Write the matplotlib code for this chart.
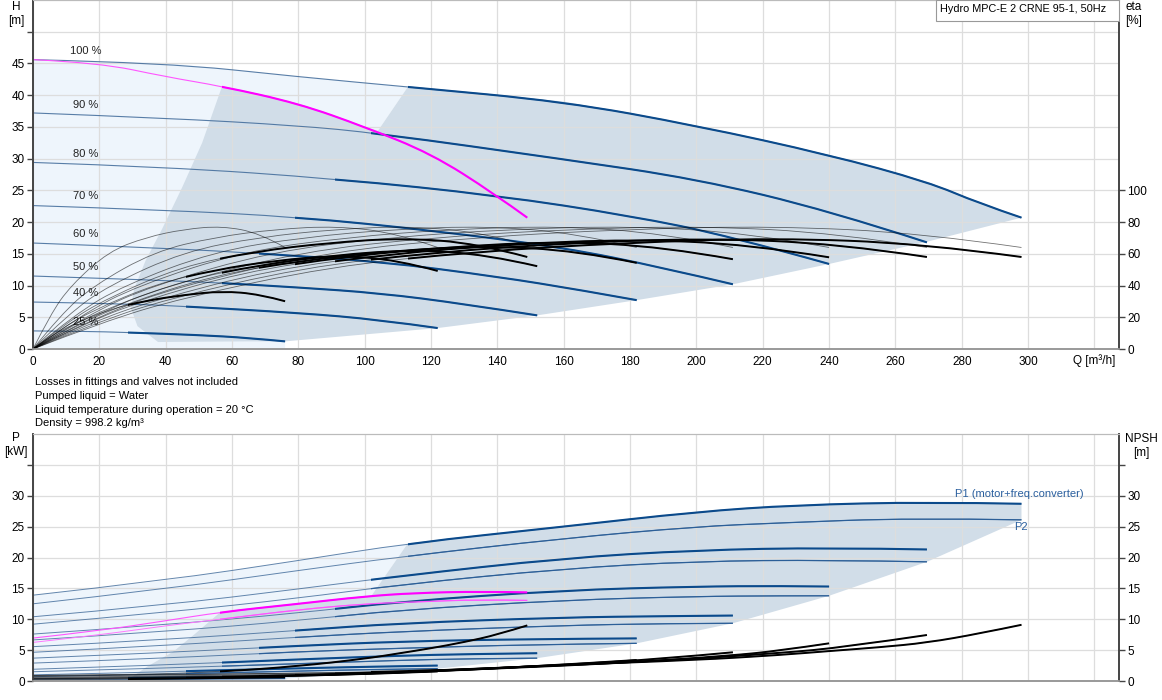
import matplotlib
matplotlib.use("Agg")
import matplotlib.pyplot as plt
from matplotlib.patches import Polygon, Rectangle, PathPatch
from matplotlib.path import Path

plt.rcParams["font.family"] = ["Liberation Sans", "DejaVu Sans"]

# ---------------- QH curves, 2 pumps, one per speed ----------------
speed_labels = ["100 %", "90 %", "80 %", "70 %", "60 %", "50 %", "40 %", "25 %"]
speed_label_h = [46.9, 38.5, 30.8, 24.1, 18.1, 12.9, 8.8, 4.25]
q_start = [113, 102, 91, 79, 68, 57, 46, 28.7]   # start of thick (operating) part

q_h100 = [0, 40, 80, 113, 160, 200, 240, 270, 285, 298]
h_100 = [45.6, 45.1, 42.9, 41.3, 39.0, 35.2, 30.6, 26.3, 23.0, 20.7]
q_h90 = [0, 40, 80, 104, 160, 200, 240, 269.5]
h_90 = [37.2, 36.4, 35.2, 34.0, 29.9, 26.8, 21.8, 16.8]
q_h80 = [0, 40, 92, 140, 180, 210, 240]
h_80 = [29.4, 28.7, 26.8, 24.2, 21.0, 17.8, 13.4]
q_h70 = [0, 40, 80, 120, 160, 190, 211]
h_70 = [22.6, 21.9, 20.8, 18.7, 16.0, 12.8, 10.2]
q_h60 = [0, 40, 70, 104.6, 140, 165, 182]
h_60 = [16.7, 15.9, 15.0, 13.8, 11.4, 9.3, 7.7]
q_h50 = [0, 40, 57, 80, 104.6, 130, 152]
h_50 = [11.5, 10.8, 10.4, 9.7, 8.8, 7.1, 5.3]
q_h40 = [0, 30, 46, 80, 104.6, 122]
h_40 = [7.4, 7.1, 6.7, 5.7, 4.6, 3.3]
q_h25 = [0, 15, 28.7, 50, 65, 76]
h_25 = [2.85, 2.8, 2.6, 2.2, 1.75, 1.2]

# one pump, 100 % (magenta)
q_h1p = [0, 20, 40, 57, 80, 100, 120, 139, 149]
h_1p = [45.6, 45.1, 42.9, 41.4, 38.7, 35.0, 30.8, 24.5, 20.7]

# ---------------- efficiency curves ----------------
q_e25 = [0, 5.3, 11.4, 22.8, 34.2, 45.6, 57, 68.4, 76]
q_e40 = [0, 8.5, 18.3, 36.6, 54.9, 73.2, 91.5, 109.8, 122]
q_e50 = [0, 10.6, 22.8, 45.6, 68.4, 91.2, 114, 136.8, 152]
q_e60 = [0, 12.7, 27.3, 54.6, 81.9, 109.2, 136.5, 163.8, 182]
q_e70 = [0, 14.8, 31.7, 63.3, 95, 126.6, 158.3, 189.9, 211]
q_e80 = [0, 16.8, 36, 72, 108, 144, 180, 216, 240]
q_e90 = [0, 18.9, 40.4, 80.9, 121.3, 161.7, 202.1, 242.6, 269.5]
q_e100 = [0, 20.9, 44.7, 89.4, 134.1, 178.8, 223.5, 268.2, 298]
q_e1p = [0, 10.4, 22.4, 44.7, 67.1, 89.4, 111.8, 134.1, 149]

eta_hyd = [0, 22, 40, 61.5, 70.5, 75.5, 77.5, 73, 64]   # thin curves

eta_100 = [0, 17, 32, 52, 61.5, 67, 70, 66.5, 58]
eta_90 = [0, 16.5, 31.5, 51.2, 61, 66.8, 69.8, 66.5, 58]
eta_80 = [0, 16, 30.5, 50, 60, 66, 69.2, 66, 57.8]
eta_70 = [0, 15.2, 29.5, 48.5, 58.5, 64.5, 67.8, 64.5, 56.6]
eta_60 = [0, 14.5, 28, 46.5, 56, 62, 65, 62, 54.3]
eta_50 = [0, 13.5, 26.1, 43.2, 53, 59.2, 62.6, 59.6, 52.2]
eta_40 = [0, 12.7, 24.6, 40.7, 49.9, 55.8, 59, 56.2, 49.2]
eta_25 = [0, 7.8, 15, 24.9, 30.5, 34.1, 36.5, 34.5, 30.1]
eta_1p = [0, 17, 32, 52, 61.5, 67, 70, 66.5, 58]

# ---------------- power curves ----------------
q_p100 = [0, 40, 80, 113, 160, 200, 230, 270, 298]
p1_100 = [13.9, 16.3, 19.5, 22.3, 25.0, 27.4, 28.5, 29.0, 28.7]
q_p2_100 = [0, 40, 80, 110.6, 160, 200, 225, 265, 298]
p2_100 = [12.5, 14.9, 17.9, 20.1, 23.1, 25.0, 25.6, 26.4, 26.1]
q_p90 = [0, 40, 80, 110.6, 160, 200, 240, 269.5]
p1_90 = [10.4, 12.3, 14.9, 17.0, 19.9, 21.2, 21.6, 21.3]
p2_90 = [9.2, 11.1, 13.4, 15.6, 18.2, 19.4, 19.6, 19.3]
q_p80 = [0, 40, 80, 110.6, 160, 200, 225, 240]
p1_80 = [7.6, 9.1, 11.0, 12.85, 14.7, 15.3, 15.4, 15.3]
p2_80 = [6.65, 8.0, 9.8, 11.5, 13.1, 13.7, 13.8, 13.8]
q_p70 = [0, 40, 80, 110.6, 160, 190, 211]
p1_70 = [5.56, 6.7, 8.2, 9.35, 10.3, 10.5, 10.6]
p2_70 = [4.65, 5.75, 7.1, 8.0, 9.0, 9.3, 9.35]
q_p60 = [0, 40, 80, 110.6, 150, 182]
p1_60 = [3.7, 4.6, 5.7, 6.4, 6.8, 6.9]
p2_60 = [2.9, 3.7, 4.75, 5.3, 5.9, 6.1]
q_p50 = [0, 40, 80, 110.6, 130, 152]
p1_50 = [1.9, 2.6, 3.5, 4.1, 4.35, 4.5]
p2_50 = [1.5, 2.1, 2.8, 3.35, 3.6, 3.7]
q_p40 = [0, 30, 46, 80, 100, 122]
p1_40 = [1.0, 1.35, 1.6, 2.05, 2.3, 2.5]
p2_40 = [0.7, 1.0, 1.2, 1.6, 1.85, 2.0]
q_p25 = [0, 28.7, 50, 76]
p1_25 = [0.35, 0.5, 0.6, 0.7]
p2_25 = [0.15, 0.25, 0.35, 0.4]
q_p1p = [0, 20, 40, 56.5, 80, 100, 115, 135, 149]
p1_1p = [6.95, 8.15, 9.75, 11.15, 12.5, 13.7, 14.25, 14.5, 14.35]
p2_1p = [6.25, 7.45, 8.95, 10.0, 11.55, 12.5, 12.8, 13.2, 13.05]

# ---------------- NPSH curves ----------------
q_n100 = [0, 60, 113, 160, 200, 225, 240, 255, 269.5, 285.5, 298]
n_100 = [0.9, 1.1, 1.5, 2.6, 3.4, 4.2, 4.85, 5.45, 6.2, 7.7, 9.1]
q_n90 = [0, 102, 150, 190, 225, 245, 269.5]
n_90 = [0.75, 1.3, 2.3, 3.3, 4.5, 5.5, 7.45]
q_n80 = [0, 91, 140, 180, 210, 225, 240]
n_80 = [0.6, 1.05, 2.0, 3.0, 4.1, 4.9, 6.1]
q_n70 = [0, 79, 120, 160, 190, 211]
n_70 = [0.5, 0.85, 1.6, 2.6, 3.6, 4.65]
q_n60 = [0, 68, 110, 150, 182]
n_60 = [0.4, 0.7, 1.3, 2.3, 3.4]
q_n50 = [0, 57, 100, 130, 152]
n_50 = [0.35, 0.6, 1.2, 1.8, 2.4]
q_n40 = [0, 46, 80, 105, 122]
n_40 = [0.3, 0.45, 0.85, 1.2, 1.55]
q_n25 = [0, 28.7, 50, 76]
n_25 = [0.2, 0.3, 0.45, 0.6]
q_n1p = [0, 30, 57, 80, 100, 110.6, 120, 130, 140, 149]
n_1p = [0.9, 1.0, 1.5, 2.4, 3.6, 4.5, 5.3, 6.3, 7.5, 9.0]

# ---------------- operating areas ----------------
area_h_light = [(0, 0), (0, 45.6), (40, 45.1), (80, 42.9), (113, 41.3), (104, 34.4), (76, 1.2), (76, 0)]
area_h_dark = [(37.7, 1.1), (31.5, 3.6), (29.5, 6.5), (30.5, 9.5), (34, 14), (39, 19), (45, 25.5),
               (51, 32.5), (57, 41.4), (80, 38.7), (100, 35.0), (104, 34.4), (113, 41.3), (160, 39.0),
               (200, 35.2), (240, 30.6), (270, 26.3), (285, 23.0), (298, 20.7), (269.5, 16.9),
               (240, 13.4), (211, 10.2), (182, 7.7), (152, 5.3), (122, 3.3), (76, 1.2), (65, 1.2),
               (50, 1.15)]
area_p_light = [(0, 0), (0, 13.9), (40, 16.3), (80, 19.5), (113, 22.3), (102, 13.8), (76, 0)]
area_p_dark = [(28.5, 0.15), (34.3, 2.3), (42.3, 4.75), (49, 7.7), (56.5, 11.15), (80, 12.5),
               (100, 13.7), (102, 13.8), (113, 22.3), (160, 25.0), (200, 27.4), (230, 28.5),
               (270, 29.0), (298, 28.7), (298, 26.1), (269.5, 19.3), (240, 13.8), (211, 9.35),
               (182, 6.1), (152, 3.7), (122, 2.0), (76, 0.4), (50, 0.2)]

NAVY = "#0b4a8b"
THIN_BLUE = "#3d6898"
MAGENTA = "#ff00ff"
LIGHT = "#eef5fc"
DARK = "#d1dde8"
GRID = "#dddddd"
AXIS = "#444444"
W, H = 1162, 700


def smooth(q, v):
    # quadratic bezier path through the read points (midpoint scheme)
    pts = list(zip(q, v))
    if len(pts) < 3:
        return Path(pts)
    verts = [pts[0]]
    codes = [Path.MOVETO]
    for i in range(1, len(pts) - 2):
        mid = ((pts[i][0] + pts[i + 1][0]) / 2, (pts[i][1] + pts[i + 1][1]) / 2)
        verts += [pts[i], mid]
        codes += [Path.CURVE3, Path.CURVE3]
    verts += [pts[-2], pts[-1]]
    codes += [Path.CURVE3, Path.CURVE3]
    return Path(verts, codes)


def line(ax, q, v, z=2, **kw):
    patch = PathPatch(smooth(q, v), fill=False, zorder=z, capstyle="butt", **kw)
    ax.add_patch(patch)
    return patch


def draw(ax, q, v, q0, thin, thick):
    line(ax, q, v, 2, **thin)
    p = line(ax, q, v, 3, **thick)
    p.set_clip_path(Rectangle((q0, -100), 1000, 1000, transform=ax.transData))


def style(ax, tw, ymax, yticks, ylabels, rticks, rlabels, rmax):
    ax.set_xlim(0, 327.4)
    ax.set_ylim(0, ymax)
    tw.set_ylim(0, rmax)
    ax.set_axisbelow(True)
    ax.grid(True, color=GRID, lw=0.9)
    ax.set_xticks(range(0, 321, 20))
    ax.set_yticks(yticks)
    ax.set_yticklabels(ylabels)
    tw.set_yticks(rticks)
    tw.set_yticklabels(rlabels)
    ax.tick_params(axis="y", direction="out", length=4, width=1, color=AXIS, labelsize=8.5, pad=2)
    tw.tick_params(axis="y", direction="out", length=4, width=1, color=AXIS, labelsize=8.5, pad=2)
    ax.tick_params(axis="x", length=0, labelsize=8.5, pad=5)
    for a in (ax, tw):
        a.spines["top"].set_color("#bbbbbb")
        a.spines["bottom"].set_color("#999999")
        a.spines["bottom"].set_linewidth(1.2)
        a.spines["left"].set_color(AXIS)
        a.spines["left"].set_linewidth(1.2)
        a.spines["right"].set_color(AXIS)
        a.spines["right"].set_linewidth(1.2)


fig = plt.figure(figsize=(11.62, 7.0), dpi=100)
ax_h = fig.add_axes([33 / W, 1 - 349 / H, 1086 / W, 349 / H])
ax_e = ax_h.twinx()
ax_p = fig.add_axes([33 / W, 1 - 681 / H, 1086 / W, 247 / H])
ax_n = ax_p.twinx()

# ---------------- top chart ----------------
ax_h.add_patch(Polygon(area_h_light, closed=True, fc=LIGHT, ec="none", zorder=0.2))
ax_h.add_patch(Polygon(area_h_dark, closed=True, fc=DARK, ec="none", zorder=0.3))

qh_q = [q_h100, q_h90, q_h80, q_h70, q_h60, q_h50, q_h40, q_h25]
qh_h = [h_100, h_90, h_80, h_70, h_60, h_50, h_40, h_25]
thin_b = dict(edgecolor=THIN_BLUE, lw=0.8, alpha=0.85)
thick_b = dict(edgecolor=NAVY, lw=1.5)
for q, h, q0 in zip(qh_q, qh_h, q_start):
    draw(ax_h, q, h, q0, thin_b, thick_b)
draw(ax_h, q_h1p, h_1p, 57, dict(edgecolor="#ff55ff", lw=0.8), dict(edgecolor=MAGENTA, lw=1.5))

for lab, y in zip(speed_labels, speed_label_h):
    ax_h.text(16, y, lab, ha="center", va="center", fontsize=8, color="#222222", zorder=5)

eq = [q_e100, q_e90, q_e80, q_e70, q_e60, q_e50, q_e40, q_e25]
etot = [eta_100, eta_90, eta_80, eta_70, eta_60, eta_50, eta_40, eta_25]
thin_k = dict(edgecolor="black", lw=0.6, alpha=0.55)
thick_k = dict(edgecolor="black", lw=1.4)
for q in eq:
    line(ax_e, q, eta_hyd, 2, **thin_k)
for q, e, q0 in zip(eq, etot, q_start):
    draw(ax_e, q, e, q0, thin_k, thick_k)
draw(ax_e, q_e1p, eta_1p, 56.5, thin_k, thick_k)

style(ax_h, ax_e, 55, range(0, 51, 5), [str(v) for v in range(0, 46, 5)] + [""],
      range(0, 101, 20), [str(v) for v in range(0, 101, 20)], 220)
ax_h.set_xticklabels([str(v) for v in range(0, 301, 20)] + [""])
ax_e.grid(False)

# ---------------- bottom chart ----------------
ax_p.add_patch(Polygon(area_p_light, closed=True, fc=LIGHT, ec="none", zorder=0.2))
ax_p.add_patch(Polygon(area_p_dark, closed=True, fc=DARK, ec="none", zorder=0.3))

p_q1 = [q_p100, q_p90, q_p80, q_p70, q_p60, q_p50, q_p40, q_p25]
p_q2 = [q_p2_100, q_p90, q_p80, q_p70, q_p60, q_p50, q_p40, q_p25]
p1s = [p1_100, p1_90, p1_80, p1_70, p1_60, p1_50, p1_40, p1_25]
p2s = [p2_100, p2_90, p2_80, p2_70, p2_60, p2_50, p2_40, p2_25]
thin_p = dict(edgecolor=THIN_BLUE, lw=0.7, alpha=0.8)
for q1, q2, a, b, q0 in zip(p_q1, p_q2, p1s, p2s, q_start):
    draw(ax_p, q2, b, q0, thin_p, dict(edgecolor="#2c5f98", lw=0.9))
    draw(ax_p, q1, a, q0, thin_p, dict(edgecolor=NAVY, lw=1.5))
draw(ax_p, q_p1p, p2_1p, 56.5, dict(edgecolor="#ff77ff", lw=0.7), dict(edgecolor="#ff55ff", lw=0.9))
draw(ax_p, q_p1p, p1_1p, 56.5, dict(edgecolor="#ff55ff", lw=0.8), dict(edgecolor=MAGENTA, lw=1.5))

nq = [q_n100, q_n90, q_n80, q_n70, q_n60, q_n50, q_n40, q_n25]
ns = [n_100, n_90, n_80, n_70, n_60, n_50, n_40, n_25]
for q, n, q0 in zip(nq, ns, q_start):
    draw(ax_n, q, n, q0, thin_k, thick_k)
draw(ax_n, q_n1p, n_1p, 56.5, thin_k, thick_k)

style(ax_p, ax_n, 40, range(0, 36, 5), [str(v) for v in range(0, 31, 5)] + [""],
      range(0, 36, 5), [str(v) for v in range(0, 31, 5)] + [""], 40)
ax_p.set_xticklabels([])
ax_n.grid(False)


# ---------------- texts ----------------
def ftext(x, y, s, **kw):
    fig.text(x / W, 1 - y / H, s, **kw)


ftext(16, 14, "H\n[m]", ha="center", va="center", fontsize=8.5, linespacing=1.25)
ftext(1134, 14, "eta\n[%]", ha="center", va="center", fontsize=8.5, linespacing=1.25)
ftext(1094, 361, "Q [m\u00b3/h]", ha="center", va="center", fontsize=8.5)
fig.add_artist(Rectangle((935.5 / W, 1 - 21 / H), (1119 - 935.5) / W, 21 / H,
                         transform=fig.transFigure, fc="white", ec="#999999", lw=0.8, zorder=10))
ftext(940, 9, "Hydro MPC-E 2 CRNE 95-1, 50Hz", ha="left", va="center", fontsize=7.8, zorder=11)

notes = ["Losses in fittings and valves not included",
         "Pumped liquid = Water",
         "Liquid temperature during operation = 20 \u00b0C",
         "Density = 998.2 kg/m\u00b3"]
for i, txt in enumerate(notes):
    ftext(35, 382.5 + i * 13.6, txt, ha="left", va="center", fontsize=8)

ftext(16, 445, "P\n[kW]", ha="center", va="center", fontsize=8.5, linespacing=1.25)
ftext(1141, 446, "NPSH\n[m]", ha="center", va="center", fontsize=8.5, linespacing=1.25)
ftext(955, 494, "P1 (motor+freq.converter)", ha="left", va="center", fontsize=8, color="#2a5f9e")
ftext(1014, 527, "P2", ha="left", va="center", fontsize=8, color="#2a5f9e")

fig.savefig("out.png", dpi=100)
